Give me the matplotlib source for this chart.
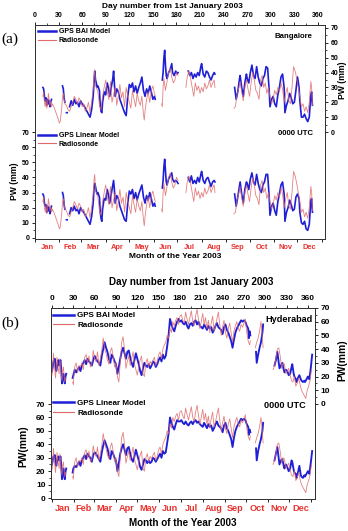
import numpy as np
import matplotlib.pyplot as plt
from matplotlib.lines import Line2D
from matplotlib.ticker import FixedLocator

plt.rcParams['font.family'] = ['Liberation Sans', 'DejaVu Sans']
plt.rcParams['font.weight'] = 'bold'

nan = np.nan

months = ["Jan", "Feb", "Mar", "Apr", "May", "Jun", "Jul", "Aug", "Sep", "Oct", "Nov", "Dec"]
month_start = [0, 31, 59, 90, 120, 151, 181, 212, 243, 273, 304, 334, 365]

# ---- Bangalore (a) ----
blr_gps_day = [10, 11, 12, 13, 14, 15, 16, 17, 18, 19, 20, 21, 22,
               35, 36, 37, 38, 39, 40, 41, 42,
               44, 46, 48, 50, 52, 54, 56, 58, 60, 62, 64, 66, 68, 70, 72, 74, 75, 76, 77, 78, 79, 80,
               82, 83, 84, 85, 86, 88, 90, 91, 92, 94, 95, 97, 99, 100, 101, 102, 104, 106, 108, 110,
               112, 114, 116, 118, 120, 122, 124, 126, 128, 130, 132, 134, 136, 138, 140, 142, 144,
               146, 148, 150, 152, 153, 158,
               162, 163, 164, 165, 166, 167, 168, 170, 172, 174, 175, 177, 179, 181, 182, 188,
               195, 197, 199, 201, 203, 205, 207, 209, 211, 212, 214, 216, 218, 220, 222, 224, 226,
               228, 229, 240,
               254, 256, 258, 260, 261, 263, 265, 267, 269, 270, 272, 274, 276, 278, 280, 282, 284,
               286, 288, 290, 292, 294, 296, 298, 299, 301, 303, 305, 307, 309, 311, 313, 315, 317,
               318, 320, 322, 324, 326, 328, 330, 332, 334, 336, 337, 339, 341, 343, 345, 347, 349,
               351, 352, 353]
blr_bai = [30, 29, 24, 21, 23, 18, 22, 19, 21, 17, 20, 22, nan,
           31, 29, 23, 20, nan, 13, 13, nan,
           17, 21, 18, 22, 19, 20, 17, 21, 19, 18, 16, 14, 12, 10, 15, 24, 33, 41, 35, 33, 30, 31,
           28, 18, 14, 13, 20, 27, 25, 30, 33, 28, 24, 30, 36, 41, 33, 24, 29, 27, 22, 19,
           16, 13, 11, 24, 32, 30, 33, 27, 31, 26, 30, 33, 37, 28, 24, 29, 26,
           31, 27, 22, 24, 22, nan,
           35, 40, 50, 55, 45, 38, 36, 40, 42, 46, 40, 38, 41, 39, 40, nan,
           41, 38, 40, 36, 39, 37, 40, 38, 44, 46, 39, 37, 41, 40, 37, 35, 38,
           40, 39, nan,
           30, 22, 27, 35, 38, 30, 24, 33, 39, 36, 33, 40, 45, 38, 36, 44, 37,
           33, 31, 36, 38, 44, 43, 28, 17, 22, 24, 19, 17, 25, 30, 37, 39, 30,
           13, 18, 21, 26, 23, 19, 20, 28, 37, 30, 21, 10, 10, 12, 9, 7, 10,
           25, 27, 18]
blr_lin = [29, 28, 23, 21, 22, 17, 21, 18, 20, 16, 19, 21, nan,
           30, 28, 22, 19, nan, 12, 12, nan,
           16, 20, 18, 21, 18, 19, 16, 20, 18, 17, 15, 13, 11, 9, 14, 23, 32, 36, 34, 31, 29, 30,
           27, 17, 13, 11, 19, 26, 25, 29, 32, 27, 23, 29, 35, 38, 32, 23, 28, 26, 21, 18,
           15, 12, 11, 23, 31, 29, 32, 26, 30, 25, 29, 32, 35, 27, 23, 28, 25,
           30, 26, 21, 23, 21, nan,
           33, 38, 47, 52, 44, 37, 35, 39, 41, 43, 39, 37, 38, 37, 36, nan,
           40, 37, 41, 36, 38, 36, 40, 37, 42, 44, 38, 36, 39, 40, 37, 34, 37,
           38, 37, nan,
           29, 21, 27, 34, 37, 29, 23, 32, 37, 36, 32, 39, 43, 37, 35, 42, 36,
           32, 30, 35, 37, 42, 42, 27, 15, 21, 23, 18, 15, 24, 29, 35, 37, 29,
           11, 17, 20, 25, 22, 18, 19, 27, 29, 26, 17, 10, 9, 11, 6, 5, 9,
           25, 26, 17]
blr_rs_day = [10, 11, 12, 13, 14, 15, 16, 17, 18, 19, 20, 21, 22, 24, 26, 28, 30, 31, 32, 34, 35,
              36, 37, 38, 40, 42, 44, 46, 48, 50, 52, 54, 56, 58, 60, 62, 64, 66, 68, 70, 72, 74,
              75, 76, 77, 78, 80, 82, 84, 86, 88, 90, 92, 94, 96, 98, 100, 102, 104, 106, 108, 110,
              112, 114, 116, 118, 120, 122, 124, 126, 128, 130, 132, 134, 136, 138, 139, 140, 142,
              144, 146, 148, 150, 152, 153, 157,
              161, 162, 163, 164, 166, 168, 170, 172, 174, 176, 178, 180, 182, 187,
              192, 194, 196, 198, 200, 202, 204, 206, 208, 210, 212, 214, 216, 218, 220, 222, 224,
              226, 228, 229, 240,
              253, 255, 257, 259, 261, 263, 265, 267, 269, 271, 273, 275, 277, 279, 281, 283, 285,
              287, 289, 291, 293, 295, 297, 299, 301, 303, 305, 307, 309, 311, 313, 315, 317, 319,
              321, 323, 325, 327, 329, 331, 333, 335, 337, 339, 341, 343, 345, 347, 349, 351, 352,
              353]
blr_rs = [24, 27, 20, 17, 22, 16, 19, 26, 22, 18, 21, 17, 19, 17, 14, 11, 8, 6, 7, 16, 24,
          26, 22, 19, 18, 15, 14, 17, 20, 24, 22, 19, 23, 21, 17, 19, 14, 16, 20, 13, 20, 29,
          38, 42, 31, 30, 27, 18, 15, 24, 30, 35, 27, 22, 34, 20, 25, 30, 18, 24, 32, 23,
          27, 17, 30, 24, 20, 16, 28, 22, 17, 26, 21, 18, 24, 12, 8, 14, 22,
          27, 20, 28, 31, 26, 24, nan,
          19, 17, 30, 36, 28, 34, 40, 43, 37, 33, 35, 40, 38, nan,
          30, 38, 41, 36, 30, 24, 33, 28, 31, 26, 30, 27, 33, 29, 31, 35, 30,
          33, 35, 30, nan,
          16, 17, 25, 29, 34, 27, 21, 30, 35, 29, 24, 33, 40, 35, 28, 26, 22,
          35, 38, 30, 33, 26, 30, 24, 19, 22, 28, 25, 30, 27, 33, 29, 20, 26,
          30, 21, 19, 30, 44, 41, 36, 30, 24, 17, 19, 14, 17, 13, 20, 34, 30,
          18]

# ---- Hyderabad (b) ----
hyd_gps_day = [0, 1, 2, 4, 5, 6, 8, 9, 10, 11, 12, 13, 14, 15, 16, 17, 18, 19, 20, 25,
               29, 30, 32, 34, 36, 38, 40, 42, 44, 46, 48, 50, 52, 54, 56, 58, 60, 62, 64, 66, 68,
               70, 72, 74, 76, 78, 80, 82, 84, 86, 88, 90, 92, 94, 96, 98, 100, 102, 104, 106, 108,
               110, 112, 114, 116, 118, 120, 122, 124, 126, 128, 130, 132, 134, 136, 138, 140, 142,
               144, 146, 148, 150, 152, 154, 156, 158, 160, 162, 164, 166, 168, 170, 172, 174, 176,
               178, 180, 182, 184, 186, 188, 190, 192, 194, 196, 198, 200, 202, 204, 206, 208, 210,
               212, 214, 216, 218, 220, 222, 224, 226, 228, 230, 232, 234, 236, 238, 240, 242, 244,
               246, 248, 250, 252, 254, 256, 258, 260, 262, 264, 266, 268, 270, 272, 274, 276, 277,
               278, 279, 283,
               287, 288, 290, 292, 294, 296, 297, 305,
               313, 315, 317, 319, 320, 322, 324, 326, 327, 329, 331, 333, 335, 337, 338, 340, 341,
               343, 344, 346, 348, 350, 351, 353, 355, 356, 358, 360, 362, 364, 366]
hyd_bai = [24, 27, 31, 33, 27, 24, 30, 32, 28, 31, 32, 25, 15, 19, 22, 18, 15, 20, 22, nan,
           19, 21, 25, 23, 25, 27, 24, 28, 30, 32, 29, 33, 31, 30, 28, 32, 35, 33, 31, 30, 28,
           35, 40, 45, 41, 38, 33, 30, 36, 34, 31, 29, 22, 27, 33, 38, 41, 37, 33, 38, 39,
           34, 30, 27, 32, 37, 33, 29, 24, 21, 26, 30, 28, 27, 29, 26, 28, 31,
           30, 27, 29, 32, 34, 31, 36, 33, 35, 42, 50, 62, 58, 55, 53, 57, 60,
           62, 60, 61, 59, 58, 60, 57, 55, 58, 59, 57, 60, 61, 58, 60, 57, 56,
           55, 58, 56, 54, 57, 55, 56, 52, 54, 57, 59, 56, 55, 54, 51, 56, 58,
           54, 52, 49, 46, 41, 47, 52, 55, 57, 59, 61, 60, 61, 60, 57, 55, 48,
           53, 50, nan,
           38, 30, 36, 41, 45, 52, 58, nan,
           28, 32, 38, 30, 26, 28, 30, 25, 23, 25, 24, 21, 22, 27, 29, 22, 20,
           18, 16, 19, 21, 18, 17, 16, 17, 16, 18, 20, 18, 26, 36]
hyd_lin = [25, 28, 31, 32, 27, 24, 30, 31, 28, 30, 31, 24, 14, 18, 22, 17, 14, 20, 22, nan,
           19, 22, 24, 23, 25, 27, 24, 28, 30, 32, 29, 33, 31, 30, 27, 32, 34, 33, 31, 29, 27,
           34, 39, 43, 40, 37, 32, 29, 35, 33, 30, 28, 20, 26, 33, 37, 40, 36, 32, 37, 38,
           33, 29, 27, 31, 36, 32, 28, 23, 21, 25, 29, 28, 26, 28, 26, 27, 30,
           29, 27, 29, 31, 33, 30, 35, 33, 34, 41, 48, 60, 56, 53, 51, 55, 58,
           57, 57, 58, 56, 55, 57, 55, 54, 56, 57, 55, 57, 58, 56, 57, 55, 54,
           53, 56, 54, 52, 55, 53, 54, 50, 52, 55, 57, 54, 53, 52, 49, 54, 56,
           52, 50, 47, 44, 38, 45, 50, 53, 55, 57, 59, 58, 59, 58, 55, 53, 47,
           51, 49, nan,
           37, 28, 35, 40, 44, 50, 56, nan,
           28, 33, 38, 29, 25, 28, 29, 24, 22, 25, 23, 20, 22, 28, 27, 21, 19,
           18, 15, 19, 24, 17, 16, 15, 17, 16, 18, 20, 18, 26, 35]
hyd_rs_day = [0, 1, 2, 3, 4, 5, 6, 7, 8, 9, 10, 11, 12, 13, 14, 15, 16, 17, 18, 19, 25,
              29, 30, 31, 32, 34, 36, 38, 40, 42, 44, 46, 48, 50, 52, 54, 56, 58, 60, 62, 64, 66,
              68, 70, 72, 73, 74, 76, 78, 80, 82, 84, 86, 88, 90, 92, 94, 96, 98, 100, 102, 104,
              106, 108, 110, 112, 114, 116, 118, 120, 122, 124, 126, 128, 130, 132, 134, 136, 138,
              140, 142, 144, 146, 148, 150, 152, 154, 156, 158, 160, 162, 164, 166, 168, 170, 172,
              174, 176, 178, 180, 182, 184, 186, 188, 190, 192, 194, 196, 198, 200, 202, 204, 206,
              208, 210, 212, 214, 216, 218, 220, 222, 224, 226, 228, 230, 232, 234, 236, 238, 240,
              242, 244, 246, 248, 250, 252, 254, 256, 258, 260, 262, 264, 266, 268, 270, 272, 274,
              276, 278, 279, 283,
              286, 288, 290, 292, 294, 295, 296, 297, 305,
              311, 313, 315, 317, 319, 321, 323, 325, 327, 329, 331, 333, 335, 337, 339, 341, 343,
              345, 347, 349, 351, 353, 355, 357, 359, 361, 363, 365]
hyd_rs = [21, 26, 37, 30, 24, 19, 27, 34, 29, 25, 22, 33, 28, 20, 17, 24, 27, 21, 16, 19, nan,
          16, 14, 22, 27, 30, 23, 28, 27, 30, 25, 34, 36, 30, 35, 27, 29, 39, 33, 31, 38, 28,
          33, 39, 48, 45, 40, 37, 32, 29, 38, 41, 35, 27, 30, 20, 16, 30, 45, 49, 40, 26,
          31, 35, 28, 33, 38, 29, 25, 21, 27, 32, 35, 22, 20, 30, 33, 27, 31,
          29, 32, 34, 28, 31, 36, 38, 33, 40, 43, 45, 50, 48, 55, 52, 60, 57,
          61, 63, 58, 64, 65, 61, 59, 67, 62, 58, 63, 68, 60, 57, 64, 69, 62,
          55, 60, 66, 58, 63, 55, 61, 52, 59, 64, 53, 57, 62, 67, 58, 50, 56,
          61, 52, 48, 55, 59, 52, 45, 53, 57, 60, 55, 53, 58, 56, 59, 62, 52,
          46, 43, 46, nan,
          41, 45, 48, 53, 60, 55, 47, 41, nan,
          25, 28, 33, 40, 41, 35, 26, 30, 29, 22, 24, 26, 21, 17, 16, 20, 13,
          15, 19, 14, 10, 8, 6, 4, 10, 13, 17, 25]

blue = "#1f1fd6"
red = "#e06a6a"
month_col = "#e8332f"


def draw_panel(rect, xlim, ylim_low, ylim_up, gday, bai, lin, rday, rs, station,
               fs_tick, fs_month, fs_leg, fs_txt, fs_ylab, up_leg_y, low_leg_y, leg_x,
               station_x, station_y, utc_x, utc_y, ylab, ylab_l, ylab_r, lw_gps):
    ax = fig.add_axes(rect)
    ax2 = ax.twinx()
    ax.set_xlim(xlim)
    ax.set_ylim(ylim_low)
    ax2.set_ylim(ylim_up)

    ax.plot(gday, lin, color=blue, lw=lw_gps, zorder=2)
    ax.plot(rday, rs, color=red, lw=0.6, alpha=0.85, zorder=3)
    ax2.plot(gday, bai, color=blue, lw=lw_gps, zorder=2)
    ax2.plot(rday, rs, color=red, lw=0.6, alpha=0.85, zorder=3)

    for a in (ax, ax2):
        a.yaxis.set_major_locator(FixedLocator(range(0, 71, 10)))
        a.yaxis.set_minor_locator(FixedLocator(range(5, 70, 10)))
        a.tick_params(axis='y', which='major', length=2.5, width=0.6, labelsize=fs_tick, pad=1.5)
        a.tick_params(axis='y', which='minor', length=1.3, width=0.5)
        for s in a.spines.values():
            s.set_linewidth(0.7)
            s.set_color("#333333")

    # months along the bottom
    ax.set_xticks(month_start)
    ax.set_xticklabels([])
    ax.set_xticks([(month_start[i] + month_start[i + 1]) / 2 for i in range(12)], minor=True)
    ax.set_xticklabels(months, minor=True)
    ax.tick_params(axis='x', which='major', length=2.5, width=0.6)
    ax.tick_params(axis='x', which='minor', length=0, labelsize=fs_month, labelcolor=month_col, pad=3.5)

    # day numbers along the top
    top = ax.secondary_xaxis('top')
    top.set_xticks(range(0, 361, 30))
    top.xaxis.set_minor_locator(FixedLocator(range(15, 360, 30)))
    top.tick_params(axis='x', which='major', length=2.5, width=0.6, labelsize=fs_tick, pad=1.5)
    top.tick_params(axis='x', which='minor', length=1.3, width=0.5)
    top.spines['top'].set_linewidth(0.7)

    h = [Line2D([], [], color=blue, lw=1.8), Line2D([], [], color=red, lw=0.8)]
    ax2.legend(h, ["GPS BAI Model", "Radiosonde"], loc='upper left', bbox_to_anchor=(leg_x, up_leg_y),
               frameon=False, fontsize=fs_leg, handlelength=2.6, borderpad=0, borderaxespad=0,
               labelspacing=0.25, handletextpad=0.4)
    ax.legend(h, ["GPS Linear Model", "Radiosonde"], loc='upper left', bbox_to_anchor=(leg_x, low_leg_y),
              frameon=False, fontsize=fs_leg, handlelength=2.6, borderpad=0, borderaxespad=0,
              labelspacing=0.25, handletextpad=0.4)

    ax2.text(station_x, station_y, station, transform=ax.transAxes, ha='right', va='center', fontsize=fs_txt)
    ax2.text(utc_x, utc_y, "0000 UTC", transform=ax.transAxes, ha='right', va='center', fontsize=fs_txt)
    ax2.text(ylab_l[0], ylab_l[1], ylab, transform=ax.transAxes, rotation=90, ha='center', va='center',
             fontsize=fs_ylab)
    ax2.text(ylab_r[0], ylab_r[1], ylab, transform=ax.transAxes, rotation=90, ha='center', va='center',
             fontsize=fs_ylab)
    return ax


fig = plt.figure(figsize=(3.48, 5.31), dpi=100)

draw_panel([0.1006, 0.5499, 0.8333, 0.403], (0, 369), (-0.7, 140.7), (-72, 72),
           blr_gps_day, blr_bai, blr_lin, blr_rs_day, blr_rs, "Bangalore",
           fs_tick=5.0, fs_month=5.4, fs_leg=5.0, fs_txt=5.6, fs_ylab=6.2,
           up_leg_y=0.985, low_leg_y=0.50, leg_x=0.01,
           station_x=0.955, station_y=0.944, utc_x=0.96, utc_y=0.495, ylab="PW (mm)",
           ylab_l=(-0.072, 0.27), ylab_r=(1.062, 0.743), lw_gps=1.2)

draw_panel([0.1466, 0.0603, 0.7586, 0.3597], (-1.4, 370), (-0.7, 141.5), (-69.3, 70),
           hyd_gps_day, hyd_bai, hyd_lin, hyd_rs_day, hyd_rs, "Hyderabad",
           fs_tick=6.0, fs_month=6.6, fs_leg=5.8, fs_txt=6.6, fs_ylab=7.4,
           up_leg_y=0.98, low_leg_y=0.52, leg_x=0.008,
           station_x=0.992, station_y=0.942, utc_x=0.966, utc_y=0.487, ylab="PW(mm)",
           ylab_l=(-0.106, 0.277), ylab_r=(1.102, 0.728), lw_gps=1.35)

fig.text(172.7 / 348, 1 - 7 / 531, "Day number from 1st January 2003", ha='center', va='center', fontsize=6.0)
fig.text(175 / 348, 1 - 257 / 531, "Month of the Year 2003", ha='center', va='center', fontsize=6.0)
fig.text(190.8 / 348, 1 - 282 / 531, "Day number from 1st January 2003", ha='center', va='center', fontsize=7.1)
fig.text(183 / 348, 1 - 523 / 531, "Month of the Year 2003", ha='center', va='center', fontsize=7.1)

fig.text(10 / 348, 1 - 39 / 531, "(a)", ha='center', va='center', fontsize=11,
         family='Liberation Serif', weight='normal')
fig.text(10 / 348, 1 - 323 / 531, "(b)", ha='center', va='center', fontsize=11,
         family='Liberation Serif', weight='normal')

fig.savefig("out.png", dpi=100)
